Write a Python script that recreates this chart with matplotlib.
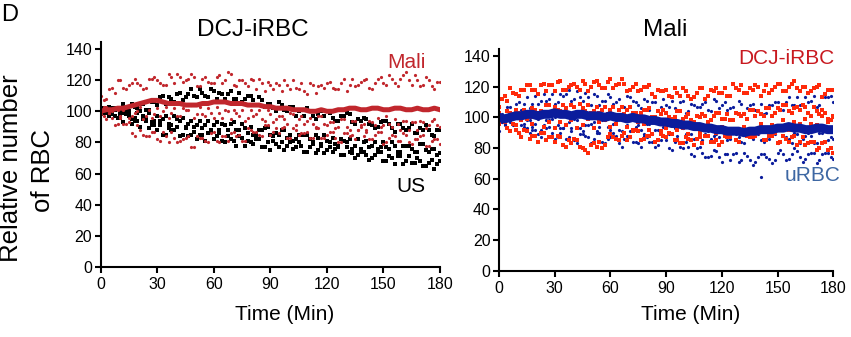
import matplotlib
matplotlib.use("Agg")
import matplotlib.pyplot as plt

plt.rcParams['font.family'] = ['Liberation Sans', 'DejaVu Sans']

# readings every 3 min, plus a second set of readings in between
time_min = list(range(0, 181, 3))
time_half = [t + 1.5 for t in range(0, 180, 3)]

# DCJ-iRBC panel: Mali plasma (red) and US plasma (black) traces
mali_main = [100, 101, 101, 102, 102, 103, 104, 105, 106, 107,
             107, 106, 105, 105, 105, 104, 104, 104, 105, 105,
             106, 106, 106, 105, 105, 105, 104, 104, 104, 103,
             103, 102, 102, 102, 101, 101, 101, 100, 100, 101,
             100, 100, 101, 101, 102, 102, 101, 101, 102, 102,
             101, 101, 102, 102, 101, 101, 102, 101, 101, 102, 101]
mali_high = [110, 108, 115, 120, 115, 117, 121, 117, 115, 121,
             120, 117, 124, 118, 122, 120, 124, 116, 121, 119,
             118, 123, 120, 124, 116, 120, 116, 120, 121, 113,
             117, 118, 113, 117, 120, 114, 113, 118, 112, 117,
             118, 115, 114, 121, 117, 116, 119, 121, 114, 121,
             118, 123, 118, 121, 125, 117, 120, 117, 120, 114, 119]
mali_high_b = [107, 114, 112, 120, 114, 118, 118, 114, 121, 122,
               118, 117, 122, 124, 119, 121, 122, 116, 122, 118,
               122, 118, 125, 117, 120, 118, 121, 114, 118, 119,
               114, 117, 120, 114, 115, 118, 111, 117, 116, 115,
               119, 114, 118, 113, 121, 117, 120, 115, 118, 122,
               117, 121, 116, 123, 120, 123, 116, 122, 116, 119]
mali_mid = [98, 103, 96, 101, 101, 96, 99, 103, 97, 96,
            102, 100, 96, 102, 97, 101, 104, 98, 98, 102,
            96, 99, 101, 95, 99, 101, 96, 97, 101, 94,
            98, 95, 97, 92, 98, 95, 92, 96, 90, 97,
            91, 93, 90, 95, 88, 94, 91, 88, 93, 96,
            91, 92, 95, 88, 94, 93, 88, 93, 91, 95, 90]
mali_mid_b = [103, 99, 102, 97, 103, 97, 100, 95, 101, 98,
              97, 103, 99, 97, 102, 101, 96, 103, 97, 99,
              103, 96, 100, 101, 97, 94, 101, 98, 95, 101,
              93, 97, 95, 99, 91, 97, 94, 92, 97, 92,
              93, 89, 95, 90, 94, 88, 92, 94, 91, 90,
              97, 90, 92, 94, 88, 93, 94, 89, 94, 91]
mali_low = [101, 95, 100, 92, 92, 93, 84, 88, 84, 87,
            82, 87, 80, 83, 81, 83, 77, 84, 83, 80,
            87, 80, 84, 86, 84, 81, 89, 87, 85, 91,
            85, 89, 89, 83, 89, 85, 86, 83, 89, 83,
            85, 87, 80, 86, 84, 82, 90, 87, 82, 87,
            79, 83, 84, 81, 85, 79, 82, 85, 78, 82, 79]
mali_low_b = [97, 99, 91, 96, 92, 86, 91, 85, 84, 87,
              81, 84, 87, 80, 82, 84, 77, 83, 81, 86,
              81, 84, 81, 87, 85, 81, 88, 87, 84, 91,
              87, 86, 90, 83, 88, 86, 87, 83, 89, 83,
              87, 83, 80, 86, 85, 88, 84, 82, 85, 87,
              80, 85, 81, 86, 80, 82, 84, 78, 81, 82]
us_high = [99, 102, 98, 102, 105, 100, 103, 105, 101, 106,
           104, 110, 109, 106, 112, 109, 114, 109, 112, 109,
           113, 112, 108, 113, 108, 106, 110, 107, 109, 103,
           105, 100, 104, 100, 103, 100, 97, 100, 95, 100,
           100, 96, 94, 97, 98, 92, 94, 95, 91, 90,
           94, 92, 87, 92, 88, 92, 86, 88, 88, 84, 88]
us_high_b = [102, 98, 102, 98, 102, 105, 102, 105, 101, 106,
             109, 105, 108, 111, 107, 111, 110, 114, 110, 114,
             108, 111, 111, 108, 112, 108, 110, 104, 107, 105,
             102, 106, 101, 103, 97, 101, 102, 97, 98, 97,
             99, 94, 97, 99, 93, 95, 96, 92, 89, 93,
             94, 89, 92, 89, 89, 86, 89, 91, 85, 88]
us_mid = [102, 99, 102, 96, 99, 99, 96, 100, 95, 93,
          97, 95, 92, 97, 94, 90, 94, 91, 89, 94,
          91, 88, 91, 92, 88, 92, 86, 85, 88, 89,
          85, 86, 88, 83, 81, 85, 85, 82, 85, 79,
          81, 83, 78, 81, 82, 78, 76, 81, 78, 76,
          80, 76, 78, 74, 78, 76, 74, 79, 74, 76, 73]
us_mid_b = [99, 103, 97, 100, 101, 95, 99, 97, 99, 94,
            94, 97, 91, 95, 96, 92, 90, 94, 91, 88,
            93, 92, 88, 93, 88, 89, 90, 85, 88, 90,
            84, 85, 88, 85, 82, 85, 85, 80, 83, 85,
            80, 79, 82, 80, 76, 82, 80, 77, 80, 77,
            77, 80, 74, 78, 78, 74, 79, 75, 76, 72]
us_low = [98, 100, 101, 96, 93, 97, 94, 90, 94, 91,
          88, 85, 89, 88, 84, 89, 85, 82, 85, 86,
          82, 86, 80, 82, 78, 83, 81, 79, 82, 77,
          75, 79, 80, 78, 76, 80, 74, 77, 73, 78,
          75, 74, 77, 72, 74, 70, 74, 72, 70, 74,
          68, 71, 66, 71, 68, 67, 70, 65, 67, 63, 68]
us_low_b = [101, 97, 101, 96, 98, 92, 94, 95, 89, 91,
            91, 85, 88, 90, 85, 84, 87, 85, 81, 87,
            84, 81, 84, 81, 84, 78, 80, 82, 77, 80,
            81, 77, 75, 80, 77, 78, 74, 79, 75, 73,
            77, 76, 72, 77, 73, 72, 74, 69, 72, 74,
            68, 70, 71, 66, 71, 67, 68, 65, 69, 66]

# Mali panel: DCJ-iRBC (red) and uRBC (blue) traces
urbc_main = [100, 99, 100, 101, 101, 102, 102, 101, 102, 102,
             103, 102, 102, 101, 102, 102, 101, 101, 101, 100,
             101, 100, 100, 99, 100, 99, 99, 98, 98, 97,
             97, 96, 96, 95, 95, 94, 94, 93, 93, 92,
             92, 91, 91, 91, 90, 91, 91, 92, 92, 92,
             93, 93, 94, 93, 93, 92, 92, 93, 93, 92, 92]
urbc_high = [107, 101, 107, 109, 105, 113, 109, 109, 115, 112,
             109, 115, 115, 111, 117, 111, 113, 115, 108, 111,
             113, 110, 107, 114, 111, 108, 112, 105, 110, 107,
             108, 111, 105, 111, 104, 108, 107, 110, 104, 111,
             108, 105, 107, 111, 103, 108, 105, 109, 103, 108,
             110, 105, 113, 108, 108, 113, 111, 107, 114, 113, 110]
urbc_high_b = [102, 107, 102, 110, 109, 106, 114, 111, 111, 115,
               110, 114, 118, 112, 113, 116, 108, 114, 111, 115,
               109, 112, 107, 113, 110, 106, 111, 110, 105, 112,
               107, 106, 110, 103, 109, 107, 109, 105, 112, 106,
               110, 106, 103, 109, 106, 109, 104, 102, 108, 110,
               105, 110, 108, 113, 108, 110, 114, 108, 113, 114]
urbc_mid = [100, 95, 98, 101, 95, 98, 92, 99, 95, 98,
            100, 93, 96, 93, 98, 91, 95, 97, 94, 98,
            92, 98, 91, 95, 92, 95, 89, 96, 92, 90,
            93, 96, 88, 93, 89, 86, 92, 89, 86, 89,
            92, 85, 90, 87, 83, 90, 88, 85, 86, 90,
            83, 88, 86, 90, 83, 88, 88, 83, 90, 85, 86]
urbc_mid_b = [97, 101, 96, 101, 94, 98, 96, 92, 98, 99,
              95, 93, 97, 99, 93, 95, 96, 91, 98, 94,
              96, 92, 98, 91, 94, 92, 96, 89, 92, 94,
              89, 93, 95, 89, 89, 93, 85, 91, 88, 87,
              91, 86, 89, 84, 91, 86, 89, 84, 86, 89,
              84, 87, 83, 89, 86, 90, 83, 90, 84, 87]
urbc_low = [91, 96, 97, 92, 88, 93, 94, 89, 90, 94,
            86, 90, 86, 91, 83, 89, 87, 86, 90, 83,
            87, 88, 81, 88, 84, 83, 88, 84, 81, 85,
            85, 79, 85, 80, 81, 75, 81, 74, 75, 78,
            71, 76, 76, 71, 77, 72, 71, 76, 74, 70,
            77, 76, 73, 80, 74, 73, 77, 70, 76, 77, 73]
urbc_low_b = [97, 93, 95, 90, 96, 90, 92, 87, 93, 90,
              87, 93, 87, 85, 89, 88, 83, 90, 84, 86,
              90, 83, 86, 87, 84, 81, 87, 84, 82, 88,
              80, 84, 81, 84, 76, 80, 77, 74, 79, 74,
              76, 72, 77, 72, 75, 69, 74, 76, 73, 72,
              79, 72, 76, 78, 71, 76, 77, 72, 77, 74]
urbc_stray_t = [141]
urbc_stray_y = [61]
dcj_high = [107, 114, 119, 115, 118, 121, 118, 115, 122, 121,
            117, 124, 118, 121, 120, 124, 117, 123, 121, 119,
            125, 121, 125, 117, 120, 117, 120, 121, 113, 117,
            118, 113, 116, 119, 114, 113, 119, 112, 118, 119,
            116, 114, 122, 118, 116, 119, 121, 114, 121, 118,
            122, 117, 120, 124, 117, 120, 117, 120, 113, 118, 118]
dcj_high_b = [112, 111, 116, 114, 118, 121, 118, 121, 117, 121,
              123, 118, 120, 122, 118, 122, 120, 124, 119, 123,
              119, 122, 122, 118, 122, 118, 120, 115, 118, 117,
              114, 119, 114, 117, 112, 116, 119, 114, 117, 116,
              119, 114, 119, 121, 116, 118, 120, 117, 116, 120,
              122, 117, 122, 119, 120, 116, 119, 121, 115, 118]
dcj_mid = [103, 99, 103, 105, 100, 103, 106, 103, 102, 108,
           107, 104, 106, 108, 103, 106, 108, 104, 103, 107,
           105, 101, 107, 105, 103, 101, 105, 106, 100, 102,
           103, 99, 104, 99, 102, 97, 100, 101, 98, 103,
           99, 102, 98, 102, 102, 105, 101, 102, 106, 101,
           106, 108, 104, 106, 105, 107, 101, 104, 105, 99, 101]
dcj_mid_b = [100, 104, 100, 103, 105, 100, 105, 104, 108, 103,
             105, 108, 103, 107, 109, 104, 103, 107, 105, 102,
             107, 105, 102, 107, 103, 103, 105, 100, 104, 105,
             100, 100, 104, 100, 98, 101, 102, 97, 101, 103,
             99, 98, 103, 101, 99, 105, 104, 101, 106, 103,
             105, 108, 103, 107, 108, 103, 107, 102, 103, 98]
dcj_mid2 = [100, 97, 101, 95, 98, 99, 96, 100, 94, 97,
            93, 97, 95, 98, 93, 95, 99, 93, 97, 98,
            94, 96, 99, 94, 92, 97, 96, 92, 97, 91,
            93, 95, 92, 93, 89, 95, 90, 92, 93, 90,
            94, 88, 92, 90, 94, 92, 89, 96, 92, 95,
            92, 98, 92, 97, 96, 99, 96, 95, 101, 97, 100]
dcj_low = [96, 98, 91, 92, 87, 91, 88, 84, 90, 87,
           84, 87, 81, 83, 85, 80, 77, 83, 84, 82,
           89, 86, 88, 85, 91, 91, 86, 88, 84, 89,
           87, 89, 85, 83, 86, 82, 87, 88, 84, 85,
           84, 87, 90, 84, 90, 87, 88, 91, 85, 88,
           83, 88, 84, 88, 84, 82, 84, 79, 83, 79, 77]
dcj_low_b = [98, 93, 96, 90, 92, 86, 88, 90, 85, 87,
             88, 82, 85, 86, 81, 79, 82, 81, 80, 87,
             87, 85, 90, 87, 92, 85, 88, 89, 85, 88,
             90, 85, 83, 87, 85, 86, 83, 88, 84, 82,
             88, 87, 85, 90, 88, 87, 90, 85, 88, 90,
             84, 86, 87, 82, 87, 83, 84, 80, 84, 80]

px = 1 / 851
py = 1 / 337
fig = plt.figure(figsize=(8.51, 3.37), dpi=100)

ax1 = fig.add_axes([100.7 * px, 1 - 267 * py, 339.3 * px, 225 * py])
ax2 = fig.add_axes([499 * px, 1 - 270.7 * py, 334.3 * px, 221.4 * py])

red1 = '#c1272d'
red2 = '#ff2a0a'
blue = '#0b1c9c'

for y in [us_high, us_mid, us_low]:
    ax1.plot(time_min, y, 's', color='black', ms=3.4, mew=0)
for y in [us_high_b, us_mid_b, us_low_b]:
    ax1.plot(time_half, y, 's', color='black', ms=3.4, mew=0)
for y in [mali_high, mali_mid, mali_low]:
    ax1.plot(time_min, y, 'o', color=red1, ms=2.3, mew=0)
for y in [mali_high_b, mali_mid_b, mali_low_b]:
    ax1.plot(time_half, y, 'o', color=red1, ms=2.3, mew=0)
ax1.plot(time_min, mali_main, '-', color=red1, lw=3.6)

for y in [urbc_high, urbc_mid, urbc_low]:
    ax2.plot(time_min, y, 'o', color=blue, ms=2.3, mew=0)
for y in [urbc_high_b, urbc_mid_b, urbc_low_b]:
    ax2.plot(time_half, y, 'o', color=blue, ms=2.3, mew=0)
ax2.plot(urbc_stray_t, urbc_stray_y, 'o', color=blue, ms=2.3, mew=0)
for y in [dcj_high, dcj_mid, dcj_mid2, dcj_low]:
    ax2.plot(time_min, y, 's', color=red2, ms=3.4, mew=0)
for y in [dcj_high_b, dcj_mid_b, dcj_low_b]:
    ax2.plot(time_half, y, 's', color=red2, ms=3.4, mew=0)
ax2.plot(time_min, urbc_main, '-', color=blue, lw=6.5)

for ax, top in [(ax1, 144.5), (ax2, 144.4)]:
    ax.set_xlim(0, 180)
    ax.set_ylim(0, top)
    ax.set_xticks([0, 30, 60, 90, 120, 150, 180])
    ax.set_yticks([0, 20, 40, 60, 80, 100, 120, 140])
    ax.spines['top'].set_visible(False)
    ax.spines['right'].set_visible(False)
    ax.spines['left'].set_linewidth(1.5)
    ax.spines['bottom'].set_linewidth(1.5)
    ax.tick_params(direction='out', length=4.5, width=1.5, labelsize=11.5)
    ax.tick_params(axis='y', pad=1.5)
    ax.tick_params(axis='x', pad=3)

fig.text(1 * px, 1 - 15 * py, 'D', fontsize=17, ha='left', va='center')
fig.text(253 * px, 1 - 30 * py, 'DCJ-iRBC', fontsize=17.5, ha='center', va='center')
fig.text(665 * px, 1 - 30 * py, 'Mali', fontsize=17.5, ha='center', va='center')
fig.text(285 * px, 1 - 314 * py, 'Time (Min)', fontsize=15, ha='center', va='center')
fig.text(691 * px, 1 - 314 * py, 'Time (Min)', fontsize=15, ha='center', va='center')
fig.text(11 * px, 1 - 168 * py, 'Relative number', fontsize=18.5, rotation=90,
         ha='center', va='center')
fig.text(43 * px, 1 - 170 * py, 'of RBC', fontsize=18.5, rotation=90,
         ha='center', va='center')

fig.text(426 * px, 1 - 63 * py, 'Mali', fontsize=15, color=red1, ha='right', va='center')
fig.text(426 * px, 1 - 186 * py, 'US', fontsize=15, color='black', ha='right', va='center')
fig.text(834 * px, 1 - 58 * py, 'DCJ-iRBC', fontsize=15, color='#c8191f', ha='right', va='center')
fig.text(840 * px, 1 - 175 * py, 'uRBC', fontsize=15, color='#3d67a3', ha='right', va='center')

fig.savefig('out.png', dpi=100)
